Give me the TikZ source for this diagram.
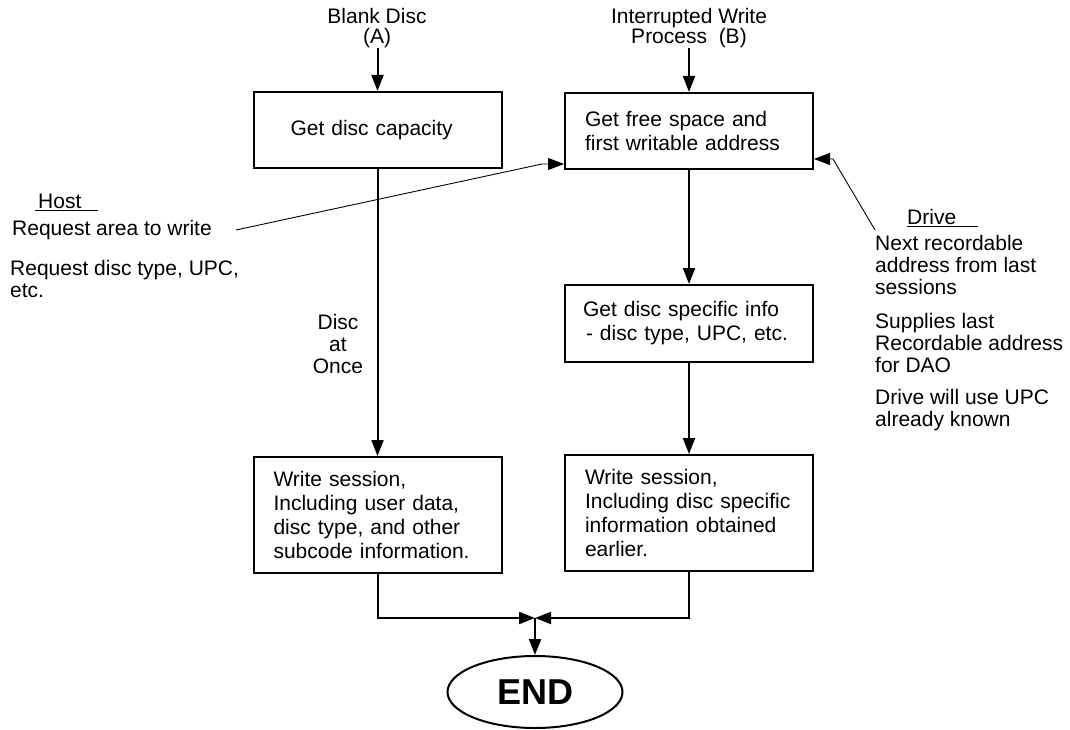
\documentclass[tikz,border=0pt]{standalone}
\usepackage{fontspec}
\setmainfont{Liberation Sans}
\usetikzlibrary{shapes.geometric,arrows.meta}
\tikzset{
    box/.style ={
        rectangle,              % rectangle node
        minimum width   = 248pt, % min width
        minimum height  = 76pt,  % min height
        inner xsep = 20pt,       % text to border
        text width = 208pt,
        align = left,
        line width = 2pt,
        font = \fontsize{21}{24}\selectfont,
        draw=black               % border colour
    },
    txt/.style ={
        inner sep = 0pt,
        align = left,
        font = \fontsize{21}{22}\selectfont
    },
    flow/.style ={
        line width = 2pt,
        -{Triangle[length=16pt,width=12pt]}
    },
    note/.style ={
        line width = 0.9pt,
        -{Triangle[length=16pt,width=12pt]}
    }
}

\begin{document}
\begin{tikzpicture}[x=1pt,y=-1pt]
    \useasboundingbox (0,0) rectangle (1070,730);
    % boxes
    \node[box] (1) at(377.5,130) {\hspace*{17pt}Get disc capacity};
    \node[box] (2) at(689,131) {Get free space and\\first writable address};
    \node[box, minimum height=77pt, inner xsep=18pt, text width=212pt] (3) at(689,323.5)
        {Get disc specific info\\\hspace*{3pt}- disc type, UPC, etc.};
    \node[box, minimum height=116pt] (4) at(377.5,515) {Write session,\\Including user data,\\disc type, and other\\subcode information.};
    \node[box, minimum height=116pt] (5) at(689,513) {Write session,\\Including disc specific\\information obtained\\earlier.};
    \node[ellipse, draw, line width=2pt, minimum width=175pt, minimum height=72pt,
          font=\fontsize{36}{40}\selectfont\bfseries] (6) at(535,692) {END};
    % entry points
    \node[txt, align=center, font=\fontsize{21}{20}\selectfont] (ta) at(377,28) {Blank Disc\\(A)};
    \node[txt, align=center, font=\fontsize{21}{20}\selectfont] (tb) at(689,28) {Interrupted Write\\Process~~(B)};
    \coordinate (ta0) at(377.5,48);
    \coordinate (tb0) at(689,48);
    \draw[flow] (ta0) -- (1.north);
    \draw[flow] (tb0) -- (2.north);
    \draw[flow] (1.south) -- (4.north);
    \draw[flow] (2.south) -- (3.north);
    \draw[flow] (3.south) -- (5.north);
    \node[txt, align=center] (dao) at(338,344) {Disc\\at\\Once};
    % join to END
    \coordinate (m) at(535,618);
    \draw[flow] (4.south) |- (m);
    \draw[flow] (5.south) |- (m);
    \draw[flow] (m) -- (6.north);
    % host side
    \node[txt, anchor=west] (host) at(35,202) {\underline{\hspace{3pt}Host\hspace{17pt}}};
    \node[txt, anchor=west] (req) at(12,230) {Request area to write};
    \node[txt, anchor=north west] (reqd) at(10,260) {Request disc type, UPC,\\etc.};
    \coordinate (hb) at(542,164);
    \draw[note] ([xshift=24pt]req.east) -- (hb) -- (2.west |- hb);
    % drive side
    \node[txt, anchor=west] (drive) at(907,218) {\underline{Drive\hspace{22pt}}};
    \node[txt, anchor=north west] (next) at(875,235) {Next recordable\\address from last\\sessions};
    \node[txt, anchor=north west] (supp) at(875,313) {Supplies last\\Recordable address\\for DAO};
    \node[txt, anchor=north west] (upc) at(875,389) {Drive will use UPC\\already known};
    \coordinate (db) at(833,159);
    \draw[note] ([yshift=5pt]next.north west) -- (db) -- (2.east |- db);
\end{tikzpicture}
\end{document}
